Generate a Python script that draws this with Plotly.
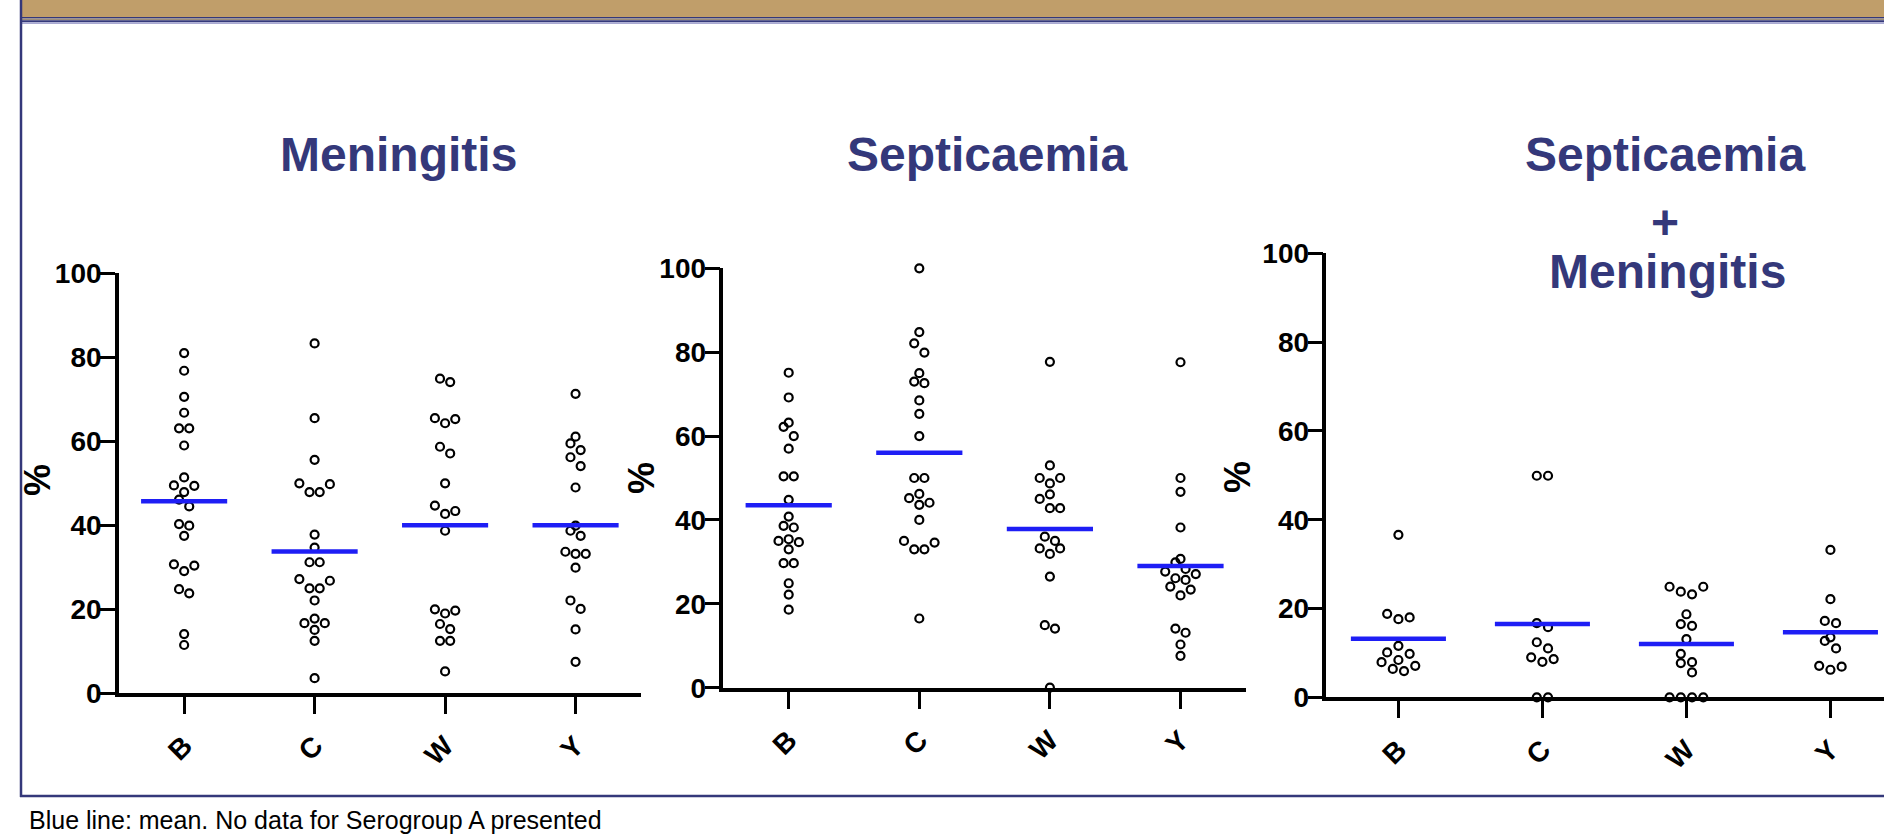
import plotly.graph_objects as go

FIG_W, FIG_H = 1884, 837

# ---------------- data ----------------
categories = ["B", "C", "W", "Y"]
y_tick_values = [0, 20, 40, 60, 80, 100]

meningitis_B = [81.0, 76.8, 70.6, 66.8, 63.1, 63.1, 59.0, 51.4, 49.5, 49.4, 47.9, 46.1,
                44.5, 40.3, 39.9, 37.5, 30.7, 30.4, 29.1, 24.8, 23.8, 14.1, 11.5]
meningitis_C = [83.3, 65.5, 55.6, 50.0, 49.8, 47.9, 47.9, 37.8, 34.7, 31.2, 31.2, 27.2,
                26.8, 25.0, 25.0, 22.1, 17.8, 16.7, 16.7, 15.1, 12.5, 3.6]
meningitis_W = [74.9, 74.1, 65.5, 65.3, 64.3, 58.7, 57.1, 50.0, 44.7, 43.4, 42.7, 38.7,
                20.0, 19.7, 19.0, 16.5, 15.3, 12.5, 12.5, 5.2]
meningitis_Y = [71.3, 61.1, 59.5, 57.9, 56.2, 54.1, 49.0, 39.9, 38.7, 37.5, 33.7, 33.2,
                33.2, 29.9, 22.1, 20.1, 15.2, 7.5]

septicaemia_B = [75.1, 69.2, 63.2, 62.2, 60.0, 57.0, 50.4, 50.4, 44.8, 40.8, 38.6, 38.2,
                 35.4, 35.0, 34.7, 33.0, 29.7, 29.7, 24.9, 22.2, 18.6]
septicaemia_C = [100.0, 84.8, 82.1, 79.9, 75.0, 73.0, 72.6, 68.5, 65.3, 60.0, 50.0, 50.0,
                 46.2, 45.2, 44.1, 43.6, 40.0, 35.0, 34.6, 33.0, 33.0, 16.5]
septicaemia_W = [77.7, 53.0, 50.0, 50.0, 48.7, 46.1, 45.0, 42.8, 42.8, 36.0, 35.0, 33.2,
                 33.2, 31.9, 26.5, 14.9, 14.1, 0.0]
septicaemia_Y = [77.6, 50.0, 46.7, 38.2, 30.7, 29.9, 28.3, 27.7, 27.1, 26.1, 25.7, 24.1,
                 23.4, 22.0, 14.1, 13.1, 10.3, 7.6]

both_B = [36.6, 18.8, 18.0, 17.6, 11.6, 10.1, 9.8, 8.4, 7.9, 7.1, 6.4, 5.9]
both_C = [49.9, 49.9, 16.7, 15.8, 12.4, 11.0, 9.0, 8.6, 8.0, 0.0, 0.0]
both_W = [24.9, 24.9, 23.8, 23.2, 18.7, 16.5, 16.1, 13.1, 9.8, 7.9, 7.7, 5.6,
          0.0, 0.0, 0.0, 0.0]
both_Y = [33.2, 22.1, 17.2, 16.7, 13.5, 12.7, 11.0, 7.1, 6.9, 6.2]

footnote = "Blue line: mean. No data for Serogroup A presented"

# ---------------- styling / layout helpers ----------------
NAVY = "#34387A"
TAN = "#C09E6A"
BLUE = "#1E1EF5"
FONT = "Liberation Sans, Arial, sans-serif"
NARROW = "Liberation Sans Narrow, Arial Narrow, Liberation Sans, sans-serif"


def fx(p):
    return p / FIG_W


def fy(p):
    return 1 - p / FIG_H


panels = [
    dict(series=[meningitis_B, meningitis_C, meningitis_W, meningitis_Y],
         xpx=(118.9, 640.8), ypx=(693.3, 273.3), xrange=[-0.5, 3.5]),
    dict(series=[septicaemia_B, septicaemia_C, septicaemia_W, septicaemia_Y],
         xpx=(723.4, 1245.8), ypx=(687.7, 268.3), xrange=[-0.5, 3.5]),
    dict(series=[both_B, both_C, both_W, both_Y],
         xpx=(1326.4, 1884.0), ypx=(697.3, 253.3), xrange=[-0.5, 3.372]),
]


def swarm_offsets(values, ppu, slot=0.078, row_px=10.0):
    """Column-scatter layout: values close in y share a row and spread sideways."""
    order = sorted(range(len(values)), key=lambda i: values[i])
    rows = []
    for i in order:
        if rows and (values[i] - values[rows[-1][0]]) * ppu < row_px:
            rows[-1].append(i)
        else:
            rows.append([i])
    offs = [0.0] * len(values)
    for row in rows:
        n = len(row)
        if n % 2:
            pos = [0] + [s * k for k in range(1, n // 2 + 1) for s in (1, -1)]
        else:
            pos = [s * (k + 0.5) for k in range(n // 2) for s in (1, -1)]
        for i, p in zip(row, pos):
            offs[i] = p * slot
    return offs


fig = go.Figure()
layout_axes = {}

for k, pnl in enumerate(panels, start=1):
    xa = "x" if k == 1 else f"x{k}"
    ya = "y" if k == 1 else f"y{k}"
    ppu = (pnl["ypx"][0] - pnl["ypx"][1]) / 100.0
    for ci, vals in enumerate(pnl["series"]):
        offs = swarm_offsets(vals, ppu)
        fig.add_trace(go.Scatter(
            x=[ci + o for o in offs], y=vals, xaxis=xa, yaxis=ya,
            mode="markers", cliponaxis=False, hoverinfo="skip",
            marker=dict(symbol="circle-open", size=8, color="black",
                        line=dict(width=2.2, color="black")),
        ))
        mean = sum(vals) / len(vals)
        fig.add_trace(go.Scatter(
            x=[ci - 0.33, ci + 0.33], y=[mean, mean], xaxis=xa, yaxis=ya,
            mode="lines", cliponaxis=False, hoverinfo="skip",
            line=dict(color=BLUE, width=4.5),
        ))

    xkey = "xaxis" if k == 1 else f"xaxis{k}"
    ykey = "yaxis" if k == 1 else f"yaxis{k}"
    layout_axes[xkey] = dict(
        domain=[fx(pnl["xpx"][0]), fx(pnl["xpx"][1])], range=pnl["xrange"],
        anchor=ya, tickmode="array", tickvals=list(range(len(categories))),
        ticktext=categories, ticks="outside", ticklen=17, tickwidth=3,
        tickcolor="black", showline=True, linewidth=4, linecolor="black",
        showgrid=False, zeroline=False, tickangle=-45, ticklabelstandoff=4,
        tickfont=dict(family=FONT, size=28, color="black", weight="bold"),
        layer="below traces", fixedrange=True, automargin=False,
    )
    layout_axes[ykey] = dict(
        domain=[fy(pnl["ypx"][0]), fy(pnl["ypx"][1])], range=[0, 100],
        anchor=xa, tickmode="array", tickvals=y_tick_values,
        ticks="outside", ticklen=15, tickwidth=3, tickcolor="black",
        showline=True, linewidth=3.5, linecolor="black",
        showgrid=False, zeroline=False, ticklabelstandoff=-7,
        tickfont=dict(family=NARROW, size=28, color="black", weight="bold"),
        layer="below traces", fixedrange=True, automargin=False,
    )

shapes = [
    dict(type="rect", xref="paper", yref="paper", x0=fx(21), x1=1, y0=fy(17), y1=1,
         fillcolor=TAN, line=dict(width=0), layer="below"),
    dict(type="rect", xref="paper", yref="paper", x0=fx(21), x1=1, y0=fy(18.5), y1=fy(17),
         fillcolor=NAVY, line=dict(width=0), layer="below"),
    dict(type="rect", xref="paper", yref="paper", x0=fx(21), x1=1, y0=fy(20.3), y1=fy(18.5),
         fillcolor="#9C8C78", line=dict(width=0), layer="below"),
    dict(type="rect", xref="paper", yref="paper", x0=fx(21), x1=1, y0=fy(22.3), y1=fy(20.3),
         fillcolor=NAVY, line=dict(width=0), layer="below"),
    dict(type="rect", xref="paper", yref="paper", x0=fx(21), x1=1, y0=fy(24), y1=fy(22.3),
         fillcolor="#A9A9D2", line=dict(width=0), layer="below"),
    dict(type="line", xref="paper", yref="paper", x0=fx(21), x1=fx(21), y0=fy(797), y1=1,
         line=dict(color=NAVY, width=2.5)),
    dict(type="line", xref="paper", yref="paper", x0=fx(20), x1=1, y0=fy(796), y1=fy(796),
         line=dict(color=NAVY, width=2.5)),
]

title_font = dict(family=FONT, size=48, color=NAVY, weight="bold")
annotations = [
    dict(text="Meningitis", x=fx(398), y=fy(154.5)),
    dict(text="Septicaemia", x=fx(987), y=fy(154.5)),
    dict(text="Septicaemia", x=fx(1665), y=fy(154.5)),
    dict(text="+", x=fx(1665), y=fy(222), height=40),
    dict(text="Meningitis", x=fx(1667), y=fy(271), height=56),
]
for a in annotations:
    a.update(xref="paper", yref="paper", xanchor="center", yanchor="middle",
             showarrow=False, font=title_font)

pct_font = dict(family=FONT, size=36, color="black", weight="bold")
for (px_, py_) in [(37, 480), (641, 478), (1237, 477)]:
    annotations.append(dict(text="%", x=fx(px_), y=fy(py_), xref="paper", yref="paper",
                            xanchor="center", yanchor="middle", textangle=-90,
                            showarrow=False, font=pct_font))

annotations.append(dict(text=footnote, x=fx(27), y=fy(804), xref="paper", yref="paper",
                        xanchor="left", yanchor="top", showarrow=False,
                        font=dict(family=FONT, size=25, color="black")))

fig.update_layout(
    width=FIG_W, height=FIG_H, autosize=False,
    margin=dict(l=0, r=0, t=0, b=0, pad=0, autoexpand=False),
    paper_bgcolor="white", plot_bgcolor="rgba(0,0,0,0)",
    showlegend=False, shapes=shapes, annotations=annotations,
    **layout_axes,
)

fig.write_html("out.html")
